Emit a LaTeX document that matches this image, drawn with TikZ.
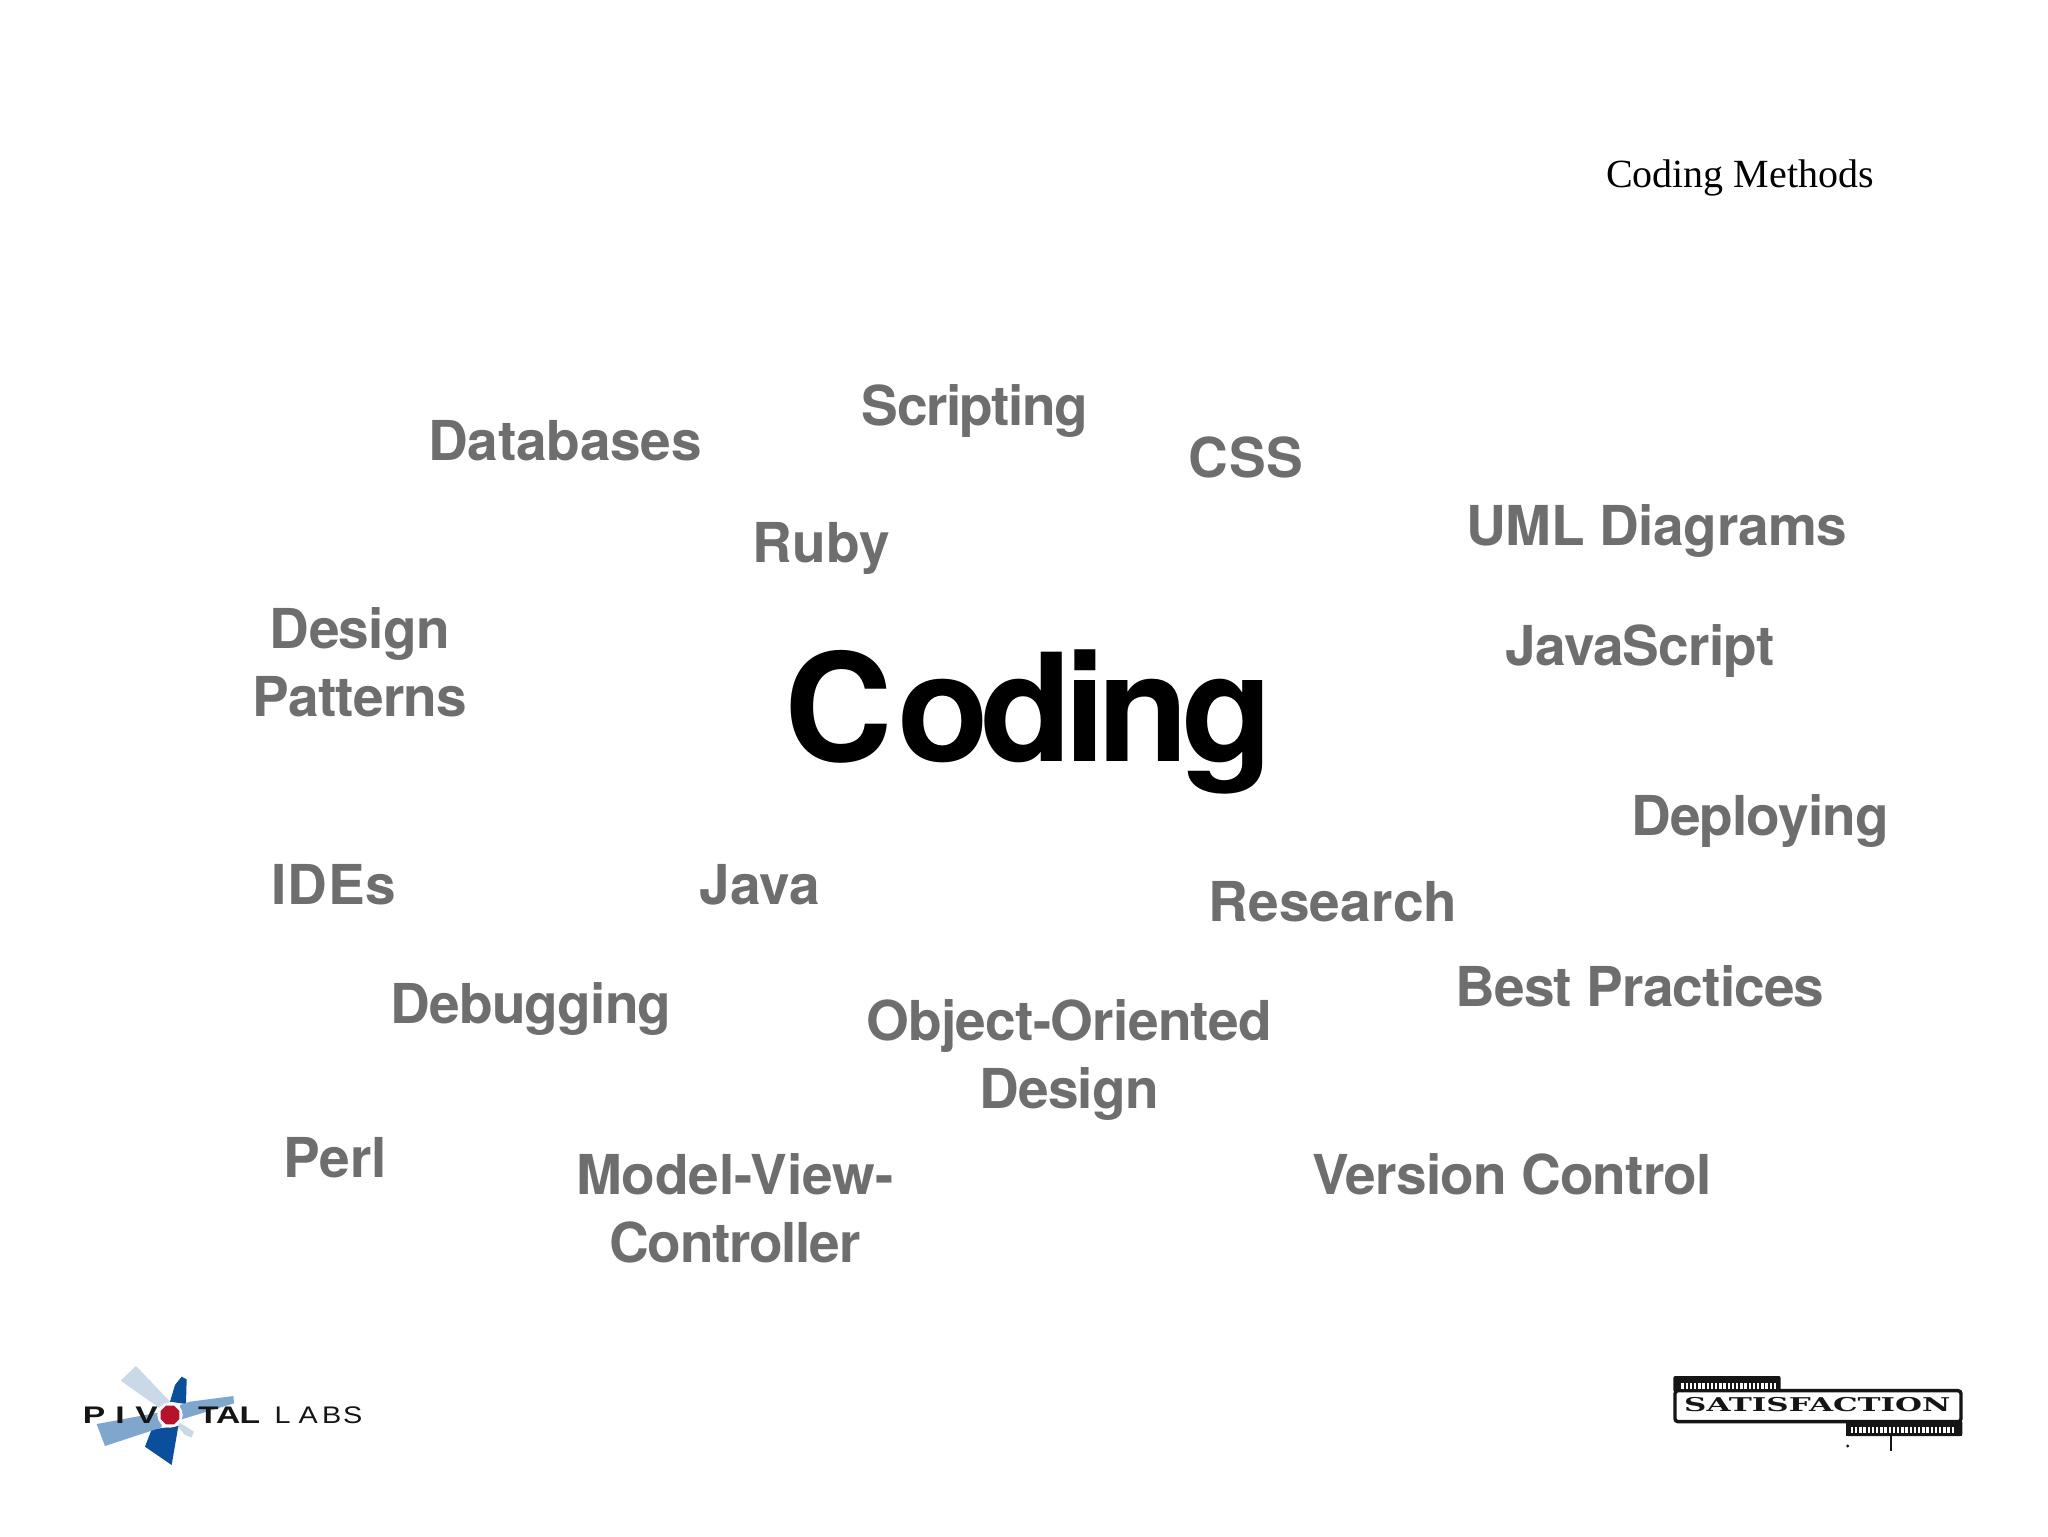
\documentclass[tikz,border=0pt]{standalone}
\usepackage{fontspec}
\setmainfont{Liberation Sans}
\newfontfamily\topicfont{TeX Gyre Heros}
\newfontfamily\bigfont[LetterSpace=-5.4]{TeX Gyre Heros}
\newfontfamily\titlefont{Liberation Serif}
\newfontfamily\logobold{Liberation Sans Bold}
\newfontfamily\logothin{Liberation Sans}
\newfontfamily\slabfont{DejaVu Serif Bold}
\definecolor{topicgray}{HTML}{6E6E6E}
\definecolor{bladelight}{HTML}{C9D9E8}
\definecolor{blademid}{HTML}{7FA6CC}
\definecolor{bladedark}{HTML}{0B4F9C}
\definecolor{hubred}{HTML}{B5122B}
\definecolor{logoink}{HTML}{151515}
\newcommand{\trk}[1]{\addfontfeature{LetterSpace=#1}}
\tikzset{
  topic/.style={anchor=base,inner sep=0pt,align=center,text=topicgray,font=\fontsize{27.5}{34}\topicfont\bfseries\addfontfeature{LetterSpace=#1}},
  topic/.default={-1.4},
  lett/.style={anchor=base,inner sep=0pt,text=logoink,xscale=1.4,font=\fontsize{12}{12}\logobold},
  thinlett/.style={anchor=base,inner sep=0pt,text=logoink,xscale=1.2,font=\fontsize{12}{12}\logothin},
  tabmark/.style={draw=white,line width=3pt,dash pattern=on 1.2pt off 0.9pt}
}
\begin{document}
\begin{tikzpicture}[x=0.5pt,y=-0.5pt]
\useasboundingbox (0,0) rectangle (2048,1536);
\fill[white] (0,0) rectangle (2048,1536);

\node[anchor=base,inner sep=0pt,font=\fontsize{20}{24}\titlefont] (title) at (1740,187) {Coding Methods};
\node[anchor=base,inner sep=0pt,font=\fontsize{75}{80}\bigfont\bfseries] (coding) at (1029,761) {C\kern2pt oding};

\node[topic=-2.7] (scripting) at (975,425) {Scripting};
\node[topic=-0.4] (databases) at (565,460) {Databases};
\node[topic=1.6] (css) at (1246,477) {CSS};
\node[topic=-0.8] (uml) at (1657,545) {UML Diagrams};
\node[topic=0.4] (ruby) at (821,562) {Ruby};
\node[topic=-1.4] (javascript) at (1640,665) {JavaScript};
\node[topic=-1.2] (patterns) at (360,716) {Design\\Patterns};
\node[topic=-1.7] (deploying) at (1760,835) {Deploying};
\node[topic=1.6] (ides) at (334,904) {IDEs};
\node[topic=0.4] (java) at (760,904) {Java};
\node[topic=0.4] (research) at (1333,921) {Research};
\node[topic=-1.4] (debugging) at (531,1023) {Debugging};
\node[topic=-1.6] (best) at (1640,1006) {Best Practices};
\node[topic=-1.3] (ood) at (1069,1108) {Object-Oriented\\Design};
\node[topic=0.4] (perl) at (335,1177) {Perl};
\node[topic=-1.6] (version) at (1512,1194) {Version Control};
\node[topic=-0.4] (mvc) at (735,1262) {Model-View-\\\trk{-2.4}Controller};

% Pivotal Labs logo (coordinates in 3x crop units)
\begin{scope}[shift={(60,1340)},x=0.16667pt,y=-0.16667pt]
  \fill[bladelight] (228,78) -- (182,122) -- (300,205) -- (335,190) -- cycle;
  \fill[bladelight] (355,245) -- (402,275) -- (395,292) -- (375,285) -- (352,258) -- cycle;
  \fill[bladedark] (365,110) -- (380,118) -- (378,192) -- (330,185) -- (345,135) -- cycle;
  \fill[bladedark] (275,268) -- (355,258) -- (335,375) -- (255,320) -- cycle;
  \fill[blademid] (390,185) -- (520,168) -- (522,190) -- (365,238) -- (360,195) -- cycle;
  \fill[blademid] (110,252) -- (305,216) -- (305,262) -- (135,318) -- cycle;
  \fill[white] (330,225) circle (38);
  \fill[hubred] (318,197) -- (342,197) -- (358,213) -- (358,237) -- (342,253) -- (318,253) -- (302,237) -- (302,213) -- cycle;
  \node[lett] (lp) at (102,250) {P};
  \node[lett] (li) at (180,250) {I};
  \node[lett] (lv) at (260,250) {V};
  \node[lett] (lt) at (445,250) {T};
  \node[lett] (la) at (505,250) {A};
  \node[lett] (ll) at (570,250) {L};
  \node[thinlett] (l2) at (668,250) {L};
  \node[thinlett] (a2) at (745,250) {A};
  \node[thinlett] (b2) at (815,250) {B};
  \node[thinlett] (s2) at (878,250) {S};
\end{scope}

% Satisfaction logo (coordinates in 3x crop units)
\begin{scope}[shift={(1660,1360)},x=0.16667pt,y=-0.16667pt]
  \fill[logoink,rounded corners=1pt] (40,48) rectangle (362,96);
  \fill[logoink,rounded corners=1pt] (558,182) rectangle (907,228);
  \draw[logoink,line width=1.7pt,rounded corners=1.5pt,fill=white] (45,92) rectangle (903,185);
  \fill[logoink] (558,180) rectangle (907,228);
  \draw[tabmark] (64,78) -- (348,78);
  \draw[tabmark] (572,209) -- (885,209);
  \draw[logoink,line width=1pt] (694,228) -- (694,272);
  \fill[logoink] (563,258) circle (5);
  \node[anchor=center,inner sep=0pt,text=logoink,font=\fontsize{9.5}{10}\slabfont,xscale=1.63] (satis) at (472,135) {SATISFACTION};
\end{scope}
\end{tikzpicture}
\end{document}
